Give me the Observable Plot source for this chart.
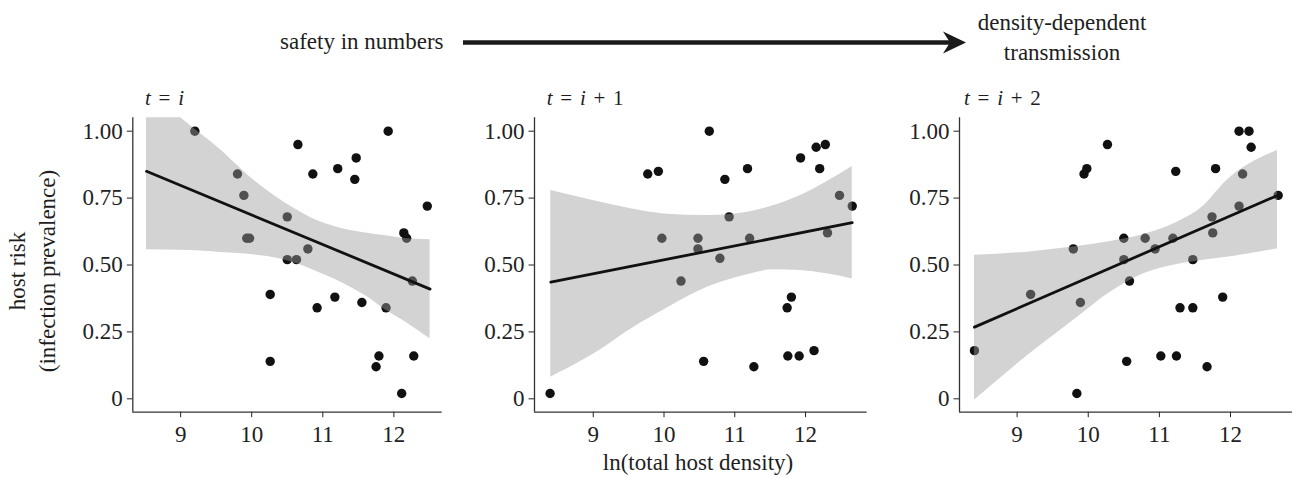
<!DOCTYPE html>
<html>
<head>
<meta charset="utf-8">
<script src="https://cdn.jsdelivr.net/npm/d3@7"></script>
<script src="https://cdn.jsdelivr.net/npm/@observablehq/plot@0.6"></script>
<style>
  html, body { margin: 0; padding: 0; background: #fff; }
  #wrap { position: relative; width: 1296px; height: 477px; overflow: hidden; font-family: "Liberation Serif", serif; color: #1e1e1e; }
  .abs { position: absolute; }
  .ptitle { position: absolute; font-size: 21px; white-space: pre; line-height: 1; word-spacing: 2.5px; }
  .ptitle i { font-style: italic; }
  #ytitle { position: absolute; left: 33px; top: 271px; width: 320px; transform: translate(-50%, -50%) rotate(-90deg); text-align: center; font-size: 23px; line-height: 30px; }
  #xtitle { position: absolute; left: 548px; width: 300px; top: 451px; text-align: center; font-size: 23px; line-height: 1; }
</style>
</head>
<body>
<div id="wrap"></div>
<script>
// ---------------- data ----------------
const xTicks = [9, 10, 11, 12];
const yTicks = [0, 0.25, 0.5, 0.75, 1];
const yTickLabels = ["0", "0.25", "0.50", "0.75", "1.00"];
const panelTitles = [["t", " = ", "i", ""], ["t", " = ", "i", " + 1"], ["t", " = ", "i", " + 2"]];

// panel 1 : t = i
const p1X = [9.20, 10.65, 9.80, 9.89, 9.93, 9.97, 10.50, 10.50, 10.63, 10.79, 10.86, 10.92, 10.26, 10.26, 11.21, 11.47, 11.45, 11.17, 11.55, 11.92, 11.89, 11.79, 11.75, 12.11, 12.14, 12.18, 12.26, 12.28, 12.47];
const p1Y = [1.00, 0.95, 0.84, 0.76, 0.60, 0.60, 0.68, 0.52, 0.52, 0.56, 0.84, 0.34, 0.39, 0.14, 0.86, 0.90, 0.82, 0.38, 0.36, 1.00, 0.34, 0.16, 0.12, 0.02, 0.62, 0.60, 0.44, 0.16, 0.72];
const b1X  = [8.52, 8.98, 9.28, 9.52, 9.75, 9.98, 10.22, 10.45, 10.69, 10.92, 11.16, 11.39, 11.63, 11.86, 12.09, 12.51];
const b1Hi = [1.16, 1.055, 0.99, 0.94, 0.884, 0.828, 0.778, 0.735, 0.697, 0.666, 0.644, 0.629, 0.619, 0.610, 0.601, 0.594];
const b1Lo = [0.557, 0.555, 0.552, 0.548, 0.544, 0.539, 0.532, 0.520, 0.500, 0.475, 0.448, 0.417, 0.380, 0.336, 0.299, 0.224];
const f1X = [8.52, 12.51];
const f1Y = [0.85, 0.41];

// panel 2 : t = i + 1
const p2X = [8.39, 9.77, 9.92, 9.97, 10.24, 10.48, 10.48, 10.56, 10.64, 10.79, 10.86, 10.92, 11.18, 11.21, 11.27, 11.74, 11.80, 11.75, 11.91, 11.93, 12.12, 12.15, 12.28, 12.20, 12.31, 12.48, 12.66];
const p2Y = [0.02, 0.84, 0.85, 0.60, 0.44, 0.60, 0.56, 0.14, 1.00, 0.525, 0.82, 0.68, 0.86, 0.60, 0.12, 0.34, 0.38, 0.16, 0.16, 0.90, 0.18, 0.94, 0.95, 0.86, 0.62, 0.76, 0.72];
const b2X  = [8.40, 9.20, 9.43, 9.90, 10.00, 10.61, 11.18, 11.55, 11.93, 12.66];
const b2Hi = [0.778, 0.729, 0.716, 0.694, 0.691, 0.685, 0.697, 0.722, 0.760, 0.868];
const b2Lo = [0.081, 0.200, 0.243, 0.318, 0.333, 0.417, 0.464, 0.482, 0.479, 0.448];
const f2X = [8.40, 12.66];
const f2Y = [0.436, 0.658];

// panel 3 : t = i + 2
const p3X = [8.40, 9.19, 9.79, 9.89, 9.84, 9.94, 9.98, 10.27, 10.50, 10.50, 10.54, 10.58, 10.80, 10.94, 11.02, 11.19, 11.23, 11.24, 11.29, 11.47, 11.47, 11.67, 11.74, 11.75, 11.79, 11.89, 12.12, 12.12, 12.26, 12.17, 12.29, 12.67];
const p3Y = [0.18, 0.39, 0.56, 0.36, 0.02, 0.84, 0.86, 0.95, 0.60, 0.52, 0.14, 0.44, 0.60, 0.56, 0.16, 0.60, 0.85, 0.16, 0.34, 0.52, 0.34, 0.12, 0.68, 0.62, 0.86, 0.38, 0.72, 1.00, 1.00, 0.84, 0.94, 0.76];
const b3X  = [8.40, 9.14, 9.84, 10.31, 10.78, 11.25, 11.60, 11.95, 12.66];
const b3Hi = [0.536, 0.548, 0.569, 0.588, 0.614, 0.660, 0.716, 0.816, 0.928];
const b3Lo = [-0.005, 0.160, 0.303, 0.398, 0.467, 0.502, 0.517, 0.529, 0.560];
const f3X = [8.40, 12.66];
const f3Y = [0.268, 0.760];

const xDomains = [[8.327, 12.68], [8.17, 12.87], [8.19, 12.87]];

// ---------------- layout ----------------
const wrap = document.getElementById("wrap");
const FONT = "'Liberation Serif', serif";

// header: arrow annotation
const NS = "http://www.w3.org/2000/svg";
const head = document.createElementNS(NS, "svg");
head.setAttribute("width", 1296); head.setAttribute("height", 80);
head.setAttribute("class", "abs"); head.style.left = "0px"; head.style.top = "0px";
head.innerHTML = `
  <text x="280" y="48.5" font-family="${FONT}" font-size="23" fill="#1e1e1e">safety in numbers</text>
  <line x1="463" y1="42.5" x2="952" y2="42.5" stroke="#1a1a1a" stroke-width="4.5"/>
  <path d="M966,42.5 L943,31.5 L950,42.5 L943,53.5 Z" fill="#1a1a1a"/>
  <text x="1062" y="30" text-anchor="middle" font-family="${FONT}" font-size="23" fill="#1e1e1e">density-dependent</text>
  <text x="1062" y="60" text-anchor="middle" font-family="${FONT}" font-size="23" fill="#1e1e1e">transmission</text>`;
wrap.appendChild(head);

const panels = [
  {px: p1X, py: p1Y, bx: b1X, bhi: b1Hi, blo: b1Lo, fx: f1X, fy: f1Y, left: 60,  width: 400, ml: 72.3, mr: 18.3, tl: 145},
  {px: p2X, py: p2Y, bx: b2X, bhi: b2Hi, blo: b2Lo, fx: f2X, fy: f2Y, left: 470, width: 410, ml: 64,   mr: 13.4, tl: 546.7},
  {px: p3X, py: p3Y, bx: b3X, bhi: b3Hi, blo: b3Lo, fx: f3X, fy: f3Y, left: 890, width: 406, ml: 69,   mr: 4.1,  tl: 964}
];

panels.forEach((p, k) => {
  const pts = p.px.map((x, i) => ({x, y: p.py[i]}));
  const band = p.bx.map((x, i) => ({x, lo: p.blo[i], hi: p.bhi[i]}));
  const fit = p.fx.map((x, i) => ({x, y: p.fy[i]}));
  const xd = xDomains[k];
  const chart = Plot.plot({
    width: p.width,
    height: 367,
    marginTop: 7.3,
    marginBottom: 65.3,
    marginLeft: p.ml,
    marginRight: p.mr,
    style: {fontFamily: FONT, fontSize: "23px", color: "#222", background: "transparent", overflow: "visible"},
    x: {domain: xd, ticks: xTicks, tickSize: 5.5, tickPadding: 7.5, label: null, tickFormat: d => String(d)},
    y: {domain: [-0.05, 1.05], ticks: yTicks, tickSize: 5.5, tickPadding: 4.5, label: null,
        tickFormat: d => yTickLabels[yTicks.indexOf(d)]},
    marks: [
      Plot.dot(pts, {x: "x", y: "y", r: 4.7, fill: "#111", stroke: "none"}),
      Plot.areaY(band, {x: "x", y1: "lo", y2: "hi", fill: "#9e9e9e", fillOpacity: 0.45, curve: "monotone-x", clip: true}),
      Plot.line(fit, {x: "x", y: "y", stroke: "#111", strokeWidth: 2.8}),
      Plot.ruleX([xd[0]], {stroke: "#333", strokeWidth: 1.3}),
      Plot.ruleY([-0.05], {stroke: "#333", strokeWidth: 1.3})
    ]
  });
  chart.style.position = "absolute";
  chart.style.left = p.left + "px";
  chart.style.top = "110px";
  wrap.appendChild(chart);

  const t = document.createElement("div");
  t.className = "ptitle";
  const pt = panelTitles[k];
  t.innerHTML = `<i>${pt[0]}</i>${pt[1]}<i>${pt[2]}</i>${pt[3]}`;
  t.style.left = p.tl + "px";
  t.style.top = "88px";
  wrap.appendChild(t);
});

const yt = document.createElement("div");
yt.id = "ytitle";
yt.innerHTML = "host risk<br>(infection prevalence)";
wrap.appendChild(yt);

const xt = document.createElement("div");
xt.id = "xtitle";
xt.textContent = "ln(total host density)";
wrap.appendChild(xt);
</script>
</body>
</html>
